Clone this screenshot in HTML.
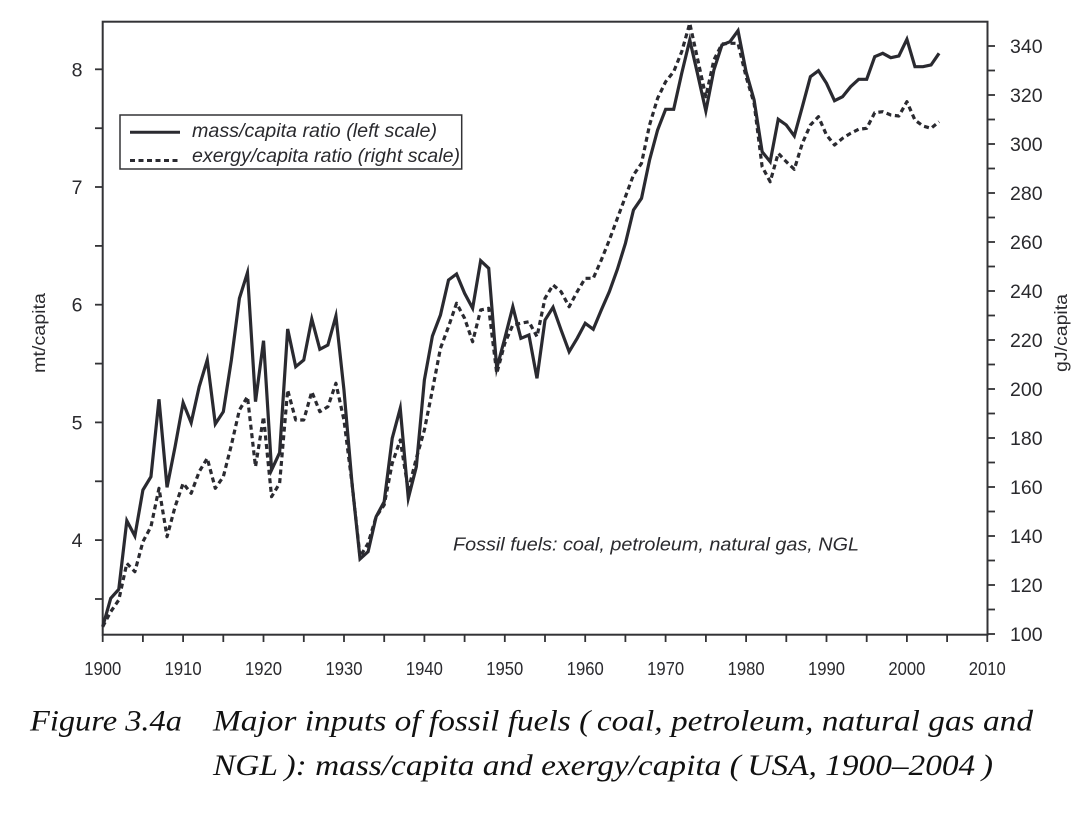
<!DOCTYPE html>
<html>
<head>
<meta charset="utf-8">
<style>
html,body{margin:0;padding:0;background:#fff;}
body{width:1082px;height:832px;overflow:hidden;}
svg{display:block;}
</style>
</head>
<body>
<svg width="1082" height="832" viewBox="0 0 1082 832" xmlns="http://www.w3.org/2000/svg">
<rect x="0" y="0" width="1082" height="832" fill="#fff"/>

<!-- frame -->
<rect x="102.7" y="21.7" width="884.8" height="613" fill="none" stroke="#333336" stroke-width="2"/>

<!-- left ticks -->
<g stroke="#333336" stroke-width="1.8">
<line x1="95" y1="69.3" x2="102.7" y2="69.3"/>
<line x1="95" y1="128.2" x2="102.7" y2="128.2"/>
<line x1="95" y1="187.0" x2="102.7" y2="187.0"/>
<line x1="95" y1="245.9" x2="102.7" y2="245.9"/>
<line x1="95" y1="304.7" x2="102.7" y2="304.7"/>
<line x1="95" y1="363.6" x2="102.7" y2="363.6"/>
<line x1="95" y1="422.4" x2="102.7" y2="422.4"/>
<line x1="95" y1="481.3" x2="102.7" y2="481.3"/>
<line x1="95" y1="540.1" x2="102.7" y2="540.1"/>
<line x1="95" y1="599.0" x2="102.7" y2="599.0"/>
</g>
<g font-family="Liberation Sans, Arial, sans-serif" font-size="19.5" fill="#2a2a2e" text-anchor="end">
<text x="82.5" y="76.3">8</text>
<text x="82.5" y="194">7</text>
<text x="82.5" y="311.7">6</text>
<text x="82.5" y="429.4">5</text>
<text x="82.5" y="547.1">4</text>
</g>

<!-- right ticks -->
<g stroke="#333336" stroke-width="1.8">
<line x1="987.5" y1="634" x2="995" y2="634"/>
<line x1="987.5" y1="609.5" x2="995" y2="609.5"/>
<line x1="987.5" y1="585" x2="995" y2="585"/>
<line x1="987.5" y1="560.5" x2="995" y2="560.5"/>
<line x1="987.5" y1="536" x2="995" y2="536"/>
<line x1="987.5" y1="511.5" x2="995" y2="511.5"/>
<line x1="987.5" y1="487" x2="995" y2="487"/>
<line x1="987.5" y1="462.5" x2="995" y2="462.5"/>
<line x1="987.5" y1="438" x2="995" y2="438"/>
<line x1="987.5" y1="413.5" x2="995" y2="413.5"/>
<line x1="987.5" y1="389" x2="995" y2="389"/>
<line x1="987.5" y1="364.5" x2="995" y2="364.5"/>
<line x1="987.5" y1="340" x2="995" y2="340"/>
<line x1="987.5" y1="315.5" x2="995" y2="315.5"/>
<line x1="987.5" y1="291" x2="995" y2="291"/>
<line x1="987.5" y1="266.5" x2="995" y2="266.5"/>
<line x1="987.5" y1="242" x2="995" y2="242"/>
<line x1="987.5" y1="217.5" x2="995" y2="217.5"/>
<line x1="987.5" y1="193" x2="995" y2="193"/>
<line x1="987.5" y1="168.5" x2="995" y2="168.5"/>
<line x1="987.5" y1="144" x2="995" y2="144"/>
<line x1="987.5" y1="119.5" x2="995" y2="119.5"/>
<line x1="987.5" y1="95" x2="995" y2="95"/>
<line x1="987.5" y1="70.5" x2="995" y2="70.5"/>
<line x1="987.5" y1="46" x2="995" y2="46"/>
</g>
<g font-family="Liberation Sans, Arial, sans-serif" font-size="19.5" fill="#2a2a2e">
<text x="1010" y="641">100</text>
<text x="1010" y="592">120</text>
<text x="1010" y="543">140</text>
<text x="1010" y="494">160</text>
<text x="1010" y="445">180</text>
<text x="1010" y="396">200</text>
<text x="1010" y="347">220</text>
<text x="1010" y="298">240</text>
<text x="1010" y="249">260</text>
<text x="1010" y="200">280</text>
<text x="1010" y="151">300</text>
<text x="1010" y="102">320</text>
<text x="1010" y="53">340</text>
</g>

<!-- bottom ticks -->
<g stroke="#333336" stroke-width="1.8">
<line x1="102.7" y1="634.7" x2="102.7" y2="642"/>
<line x1="142.9" y1="634.7" x2="142.9" y2="642"/>
<line x1="183.1" y1="634.7" x2="183.1" y2="642"/>
<line x1="223.3" y1="634.7" x2="223.3" y2="642"/>
<line x1="263.5" y1="634.7" x2="263.5" y2="642"/>
<line x1="303.8" y1="634.7" x2="303.8" y2="642"/>
<line x1="344.0" y1="634.7" x2="344.0" y2="642"/>
<line x1="384.2" y1="634.7" x2="384.2" y2="642"/>
<line x1="424.4" y1="634.7" x2="424.4" y2="642"/>
<line x1="464.6" y1="634.7" x2="464.6" y2="642"/>
<line x1="504.8" y1="634.7" x2="504.8" y2="642"/>
<line x1="545.0" y1="634.7" x2="545.0" y2="642"/>
<line x1="585.2" y1="634.7" x2="585.2" y2="642"/>
<line x1="625.4" y1="634.7" x2="625.4" y2="642"/>
<line x1="665.6" y1="634.7" x2="665.6" y2="642"/>
<line x1="705.9" y1="634.7" x2="705.9" y2="642"/>
<line x1="746.1" y1="634.7" x2="746.1" y2="642"/>
<line x1="786.3" y1="634.7" x2="786.3" y2="642"/>
<line x1="826.5" y1="634.7" x2="826.5" y2="642"/>
<line x1="866.7" y1="634.7" x2="866.7" y2="642"/>
<line x1="906.9" y1="634.7" x2="906.9" y2="642"/>
<line x1="947.1" y1="634.7" x2="947.1" y2="642"/>
<line x1="987.3" y1="634.7" x2="987.3" y2="642"/>
</g>
<g font-family="Liberation Sans, Arial, sans-serif" font-size="18.5" fill="#2a2a2e">
<text x="84.2" y="675" textLength="37" lengthAdjust="spacingAndGlyphs">1900</text>
<text x="164.6" y="675" textLength="37" lengthAdjust="spacingAndGlyphs">1910</text>
<text x="245" y="675" textLength="37" lengthAdjust="spacingAndGlyphs">1920</text>
<text x="325.5" y="675" textLength="37" lengthAdjust="spacingAndGlyphs">1930</text>
<text x="405.9" y="675" textLength="37" lengthAdjust="spacingAndGlyphs">1940</text>
<text x="486.3" y="675" textLength="37" lengthAdjust="spacingAndGlyphs">1950</text>
<text x="566.7" y="675" textLength="37" lengthAdjust="spacingAndGlyphs">1960</text>
<text x="647.1" y="675" textLength="37" lengthAdjust="spacingAndGlyphs">1970</text>
<text x="727.6" y="675" textLength="37" lengthAdjust="spacingAndGlyphs">1980</text>
<text x="808" y="675" textLength="37" lengthAdjust="spacingAndGlyphs">1990</text>
<text x="888.4" y="675" textLength="37" lengthAdjust="spacingAndGlyphs">2000</text>
<text x="968.8" y="675" textLength="37" lengthAdjust="spacingAndGlyphs">2010</text>
</g>

<!-- axis titles -->
<g font-family="Liberation Sans, Arial, sans-serif" font-size="17.5" fill="#2a2a2e">
<text transform="translate(45,373) rotate(-90)" textLength="80" lengthAdjust="spacingAndGlyphs">mt/capita</text>
<text transform="translate(1067,372) rotate(-90)" textLength="78" lengthAdjust="spacingAndGlyphs">gJ/capita</text>
</g>

<!-- legend -->
<rect x="120" y="115" width="341.7" height="54" fill="#fff" stroke="#333336" stroke-width="1.5"/>
<line x1="130" y1="132.3" x2="180" y2="132.3" stroke="#2a2a30" stroke-width="3"/>
<line x1="130" y1="160.5" x2="180" y2="160.5" stroke="#2a2a30" stroke-width="3" stroke-dasharray="5 3.5"/>
<g font-family="Liberation Sans, Arial, sans-serif" font-style="italic" font-size="19" fill="#2a2a2e">
<text x="192" y="137" textLength="245" lengthAdjust="spacingAndGlyphs">mass/capita ratio (left scale)</text>
<text x="192" y="162" textLength="268" lengthAdjust="spacingAndGlyphs">exergy/capita ratio (right scale)</text>
</g>

<!-- annotation -->
<text x="453" y="550.7" font-family="Liberation Sans, Arial, sans-serif" font-style="italic" font-size="18.5" fill="#2a2a2e" textLength="406" lengthAdjust="spacingAndGlyphs">Fossil fuels: coal, petroleum, natural gas, NGL</text>

<!-- dashed series (exergy) -->
<polyline fill="none" stroke="#2a2a30" stroke-width="3.2" stroke-dasharray="5 3.6" stroke-linejoin="round" points="
102.7,626.7 110.74,611.7 118.78,600 126.83,563.3 134.87,571.7 142.91,541.7 150.95,526.7 158.99,488.3 167.04,536.7 175.08,506.7
183.12,483.3 191.16,493.3 199.2,471.7 207.25,458.3 215.29,488.3 223.33,476.7 231.37,445 239.41,410 247.46,396.7 255.5,466.7
263.54,416.7 271.58,496.7 279.62,483.3 287.67,390 295.71,420 303.75,420 311.79,391.7 319.83,411.7 327.88,406.7 335.92,383.3
343.96,420 352,483.3 360.04,556.7 368.09,543.3 376.13,516.7 384.17,505 392.21,463.3 400.25,440 408.3,490 416.34,458.3
424.38,430 432.42,390 440.46,348.3 448.51,326.7 456.55,303.3 464.59,318.3 472.63,341.7 480.67,310 488.72,308.3 496.76,373.3
504.8,343.3 512.84,325 520.88,323.3 528.93,321.7 536.97,336.7 545.01,298.3 553.05,285 561.09,291.7 569.14,306.7 577.18,291.7
585.22,278.3 593.26,278.3 601.3,260 609.35,240 617.39,218.3 625.43,196.7 633.47,175 641.51,163.3 649.56,125 657.6,98.3
665.64,81.7 673.68,71.7 681.72,51.7 689.77,23.3 697.81,60 705.85,96.7 713.89,60 721.93,44 729.98,43.3 738.02,43.3
746.06,76.7 754.1,103.3 762.14,166.7 770.19,181.7 778.23,153.3 786.27,161.7 794.31,169.3 802.35,143.3 810.4,125 818.44,116.7
826.48,135 834.52,145 842.56,138.3 850.61,133.3 858.65,129.3 866.69,128.3 874.73,112.7 882.77,111.7 890.82,115 898.86,116
906.9,101.7 914.94,120 922.98,126 931.03,128.3 939.07,121.7"/>

<!-- solid series (mass) -->
<polyline fill="none" stroke="#2a2a30" stroke-width="3.2" stroke-linejoin="miter" stroke-miterlimit="6" points="
102.7,626.7 110.74,598.3 118.78,589.3 126.83,520.7 134.87,536 142.91,490 150.95,476.7 158.99,399.3 167.04,487.3 175.08,446.7
183.12,402.7 191.16,422.7 199.2,386.7 207.25,360 215.29,424 223.33,411.7 231.37,360 239.41,298.3 247.46,272.7 255.5,401.7
263.54,340.7 271.58,470 279.62,452.7 287.67,329 295.71,366.7 303.75,360 311.79,319 319.83,349.3 327.88,345 335.92,316
343.96,390 352,483 360.04,559 368.09,551.7 376.13,516.7 384.17,501.7 392.21,438.3 400.25,408.3 408.3,498.3 416.34,466.7
424.38,380 432.42,336 440.46,315 448.51,280 456.55,274 464.59,293.3 472.63,308.3 480.67,260.7 488.72,268.3 496.76,368.3
504.8,338.3 512.84,306.7 520.88,338.3 528.93,335 536.97,378.3 545.01,320 553.05,307.3 561.09,330 569.14,351.7 577.18,338.3
585.22,323.3 593.26,329.3 601.3,310 609.35,291.7 617.39,269.3 625.43,243.3 633.47,210 641.51,198.3 649.56,160 657.6,130
665.64,109.3 673.68,109.3 681.72,73.3 689.77,40 697.81,75 705.85,111 713.89,70 721.93,45 729.98,41.7 738.02,30.7
746.06,71.7 754.1,100 762.14,151.7 770.19,161.7 778.23,119.3 786.27,125 794.31,136 802.35,106.7 810.4,76.7 818.44,70.7
826.48,83.3 834.52,100.7 842.56,96.7 850.61,86.7 858.65,79.3 866.69,79.3 874.73,56.7 882.77,53.3 890.82,57.7 898.86,56
906.9,39.3 914.94,66.7 922.98,66.7 931.03,65 939.07,53.3"/>

<!-- caption -->
<g font-family="Liberation Serif, Times New Roman, serif" font-style="italic" font-size="30" fill="#111">
<text x="30" y="730.7" textLength="152" lengthAdjust="spacingAndGlyphs">Figure 3.4a</text>
<text x="213" y="730.7" textLength="820" lengthAdjust="spacingAndGlyphs">Major inputs of fossil fuels (&#8201;coal, petroleum, natural gas and</text>
<text x="213" y="775" textLength="780" lengthAdjust="spacingAndGlyphs">NGL&#8201;): mass/capita and exergy/capita (&#8201;USA, 1900–2004&#8201;)</text>
</g>
</svg>
</body>
</html>
